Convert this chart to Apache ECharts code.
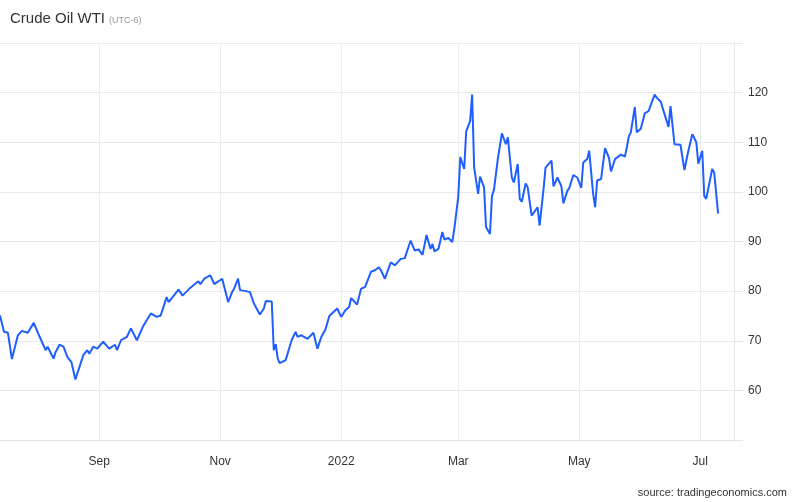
<!DOCTYPE html>
<html>
<head>
<meta charset="utf-8">
<script src="https://cdn.jsdelivr.net/npm/echarts@6/dist/echarts.min.js"></script>
<style>
html,body{margin:0;padding:0;background:#fff;}
#chart{width:800px;height:502px;}
</style>
</head>
<body>
<div id="chart"></div>
<script>
// Data (WTI crude, USD/bbl)
const dates = [
'2021-07-13','2021-07-15','2021-07-17','2021-07-19','2021-07-20','2021-07-22','2021-07-24','2021-07-27','2021-07-30','2021-07-31',
'2021-08-02','2021-08-03','2021-08-05','2021-08-06','2021-08-09','2021-08-10','2021-08-12','2021-08-14','2021-08-16','2021-08-18',
'2021-08-20','2021-08-24','2021-08-26','2021-08-27','2021-08-29','2021-08-31','2021-09-01','2021-09-03','2021-09-06','2021-09-09',
'2021-09-10','2021-09-12','2021-09-15','2021-09-17','2021-09-18','2021-09-20','2021-09-23','2021-09-27','2021-09-30','2021-10-02',
'2021-10-05','2021-10-06','2021-10-11','2021-10-13','2021-10-17','2021-10-18','2021-10-21','2021-10-22','2021-10-24','2021-10-27',
'2021-10-29','2021-10-30','2021-11-02','2021-11-05','2021-11-07','2021-11-08','2021-11-10','2021-11-11','2021-11-14','2021-11-16',
'2021-11-18','2021-11-21','2021-11-23','2021-11-24','2021-11-27','2021-11-28','2021-11-29','2021-11-30','2021-12-01','2021-12-04',
'2021-12-05','2021-12-07','2021-12-09','2021-12-10','2021-12-12','2021-12-15','2021-12-16','2021-12-18','2021-12-20','2021-12-22',
'2021-12-24','2021-12-26','2021-12-30','2022-01-01','2022-01-03','2022-01-05','2022-01-06','2022-01-09','2022-01-11','2022-01-13',
'2022-01-16','2022-01-18','2022-01-20','2022-01-21','2022-01-23','2022-01-26','2022-01-28','2022-01-31','2022-02-02','2022-02-05',
'2022-02-07','2022-02-09','2022-02-11','2022-02-13','2022-02-15','2022-02-16','2022-02-17','2022-02-19','2022-02-21','2022-02-22',
'2022-02-24','2022-02-26','2022-02-27','2022-03-01','2022-03-02','2022-03-04','2022-03-05','2022-03-07','2022-03-08','2022-03-09',
'2022-03-11','2022-03-12','2022-03-14','2022-03-15','2022-03-17','2022-03-18','2022-03-19','2022-03-21','2022-03-22','2022-03-23',
'2022-03-25','2022-03-26','2022-03-28','2022-03-29','2022-03-31','2022-04-01','2022-04-02','2022-04-04','2022-04-05','2022-04-07',
'2022-04-08','2022-04-10','2022-04-11','2022-04-13','2022-04-14','2022-04-17','2022-04-18','2022-04-20','2022-04-22','2022-04-23',
'2022-04-25','2022-04-26','2022-04-28','2022-04-30','2022-05-01','2022-05-02','2022-05-03','2022-05-05','2022-05-06','2022-05-08',
'2022-05-09','2022-05-10','2022-05-12','2022-05-14','2022-05-16','2022-05-17','2022-05-19','2022-05-22','2022-05-24','2022-05-25',
'2022-05-26','2022-05-27','2022-05-29','2022-05-30','2022-06-01','2022-06-03','2022-06-05','2022-06-06','2022-06-08','2022-06-09',
'2022-06-11','2022-06-12','2022-06-15','2022-06-16','2022-06-18','2022-06-19','2022-06-21','2022-06-23','2022-06-25','2022-06-27',
'2022-06-29','2022-06-30','2022-07-02','2022-07-03','2022-07-04','2022-07-07','2022-07-08','2022-07-10'
];
const prices = [
75.1,71.8,71.6,66.3,66.7,71.1,72.0,71.6,73.6,73.8,
70.8,70.6,68.1,68.8,66.4,67.7,69.2,68.8,66.7,65.7,
62.2,67.1,68.1,67.4,68.8,68.4,68.4,69.8,68.4,69.2,
68.1,70.1,70.8,72.5,72.1,70.1,72.8,75.5,74.8,75.1,
78.8,77.8,80.3,79.1,80.7,80.8,82.0,81.4,82.5,83.2,
81.4,81.5,82.5,77.8,79.8,80.5,82.5,80.2,80.0,79.8,
77.5,75.3,76.5,78.0,77.9,68.1,69.3,66.4,65.5,66.1,
66.2,70.1,71.8,70.8,71.1,70.4,70.1,71.6,68.4,70.8,
72.2,75.0,76.5,74.8,76.1,76.8,78.6,77.3,80.5,80.8,
83.9,84.2,84.8,84.2,82.5,85.8,85.2,86.5,86.6,90.2,
88.2,88.4,87.3,91.3,88.5,89.5,88.0,88.5,91.9,90.4,
90.7,89.9,92.5,99.0,107.0,104.6,112.2,114.3,119.6,105.0,
99.6,103.1,100.9,92.9,91.5,99.2,100.4,106.8,106.7,111.8,
109.6,111.0,102.9,101.9,105.6,98.6,98.0,101.7,100.9,95.2,
95.6,96.9,93.2,100.6,104.9,106.3,101.1,102.9,101.1,97.7,
100.2,100.8,103.4,102.9,103.3,100.8,105.9,106.6,108.3,99.6,
96.9,102.3,102.6,108.8,106.8,104.1,106.6,107.5,107.1,109.0,
111.2,112.0,117.1,112.0,112.7,115.8,116.3,117.5,119.6,119.0,
118.2,118.0,113.1,117.3,109.6,110.0,109.5,104.4,108.3,111.6,
110.0,105.7,108.3,99.2,98.6,104.6,103.9,95.6
];
const yTicks = [60, 70, 80, 90, 100, 110, 120];
const monthNames = ['Jan','Feb','Mar','Apr','May','Jun','Jul','Aug','Sep','Oct','Nov','Dec'];
const axisStart = '2021-07-13';
const axisEnd = '2022-07-18';

function ts(s) { const p = s.split('-').map(Number); return new Date(p[0], p[1] - 1, p[2]).getTime(); }
const seriesData = dates.map((d, i) => [ts(d), prices[i]]);

const FONT = '"Liberation Sans", Arial, sans-serif';
const chart = echarts.init(document.getElementById('chart'), null, { renderer: 'canvas' });
chart.setOption({
  animation: false,
  backgroundColor: '#ffffff',
  title: [{
    left: 10, top: 11, padding: 0,
    text: 'Crude Oil WTI',
    textStyle: { fontFamily: FONT, fontSize: 15, fontWeight: 'normal', color: '#333333' }
  }, {
    left: 109, top: 16, padding: 0,
    text: '(UTC-6)',
    textStyle: { fontFamily: FONT, fontSize: 9, fontWeight: 'normal', color: '#999999' }
  }],
  graphic: [{
    type: 'text', right: 13, top: 487,
    style: { text: 'source: tradingeconomics.com', font: '11px ' + FONT, fill: '#333333' }
  }],
  grid: { left: 0, right: 66, top: 43, bottom: 62, containLabel: false },
  xAxis: {
    type: 'time',
    min: ts(axisStart), max: ts(axisEnd),
    splitNumber: 6,
    axisLine: { show: true, lineStyle: { color: '#e3e3e3', width: 1 } },
    axisTick: { show: false },
    splitLine: { show: true, showMinLine: false, showMaxLine: false, lineStyle: { color: '#e8edf3', width: 1 } },
    axisLabel: {
      color: '#333333', fontSize: 12, fontFamily: FONT, margin: 16,
      formatter: function (v) {
        const d = new Date(v);
        return d.getMonth() === 0 ? String(d.getFullYear()) : monthNames[d.getMonth()];
      }
    }
  },
  yAxis: {
    type: 'value', position: 'right',
    min: 50, max: 130, interval: 10,
    axisLine: { show: true, lineStyle: { color: '#e6e6e6', width: 1 } },
    axisTick: { show: true, length: 9, lineStyle: { color: '#e6e6e6' } },
    splitLine: { show: true, lineStyle: { color: '#e9e9e9', width: 1 } },
    axisLabel: {
      color: '#333333', fontSize: 12, fontFamily: FONT, margin: 14,
      formatter: function (v) { return yTicks.indexOf(v) >= 0 ? String(v) : ''; }
    }
  },
  series: [{
    type: 'line',
    data: seriesData,
    showSymbol: false,
    symbol: 'none',
    lineStyle: { color: '#1f5fff', width: 2 },
    itemStyle: { color: '#1f5fff' },
    clip: true
  }]
});
</script>
</body>
</html>
